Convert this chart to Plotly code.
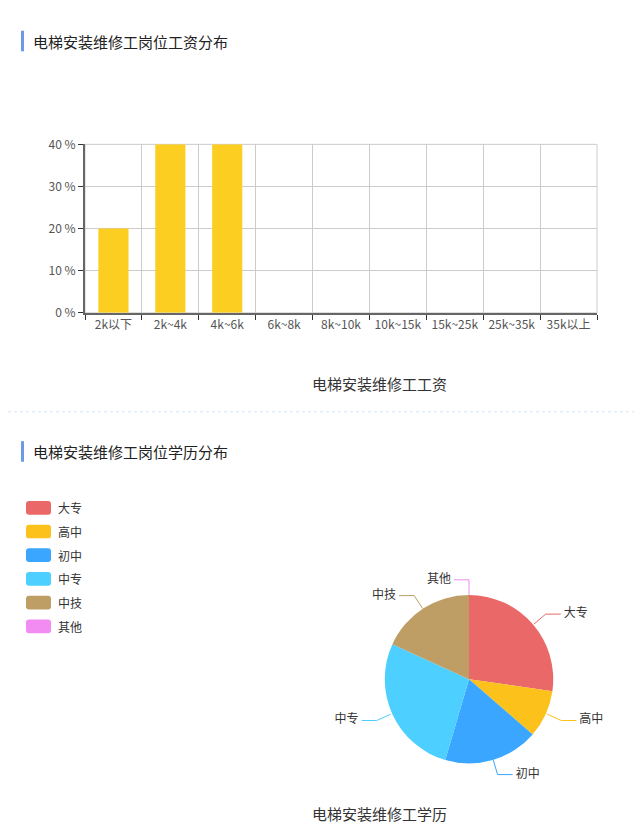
import numpy as np
import plotly.graph_objects as go

W, H = 642, 832
OFF = 8  # page margin around the plot div

# salary distribution
salary_cats = ["2k以下", "2k~4k", "4k~6k", "6k~8k", "8k~10k", "10k~15k", "15k~25k", "25k~35k", "35k以上"]
salary_pct = [20, 40, 40, 0, 0, 0, 0, 0, 0]

# education distribution
edu_labels = ["大专", "高中", "初中", "中专", "中技", "其他"]
edu_counts = [3, 1, 2, 3, 2, 0]
edu_colors = ["#EA6868", "#FDC11C", "#3AA6FF", "#4DCFFF", "#BE9E64", "#F28BF2"]

FONT = "Noto Sans CJK SC"


def px(x):
    return (x - OFF) / W


def py(y):
    return 1 - (y - OFF) / H


fig = go.Figure()

# ---- bar chart ----
fig.add_trace(go.Bar(
    x=salary_cats, y=salary_pct,
    marker=dict(color="#FDCE22", line=dict(width=0)),
    width=0.53, hoverinfo="x+y", showlegend=False,
    xaxis="x", yaxis="y"))

# ---- pie chart ----
cx, cy, r = 469, 683, 86
pie_dom_x = [px(cx - r), px(cx + r)]
pie_dom_y = [py(cy + r), py(cy - r)]

fig.add_trace(go.Pie(
    labels=edu_labels, values=edu_counts,
    marker=dict(colors=edu_colors, line=dict(width=0)),
    sort=False, direction="clockwise", rotation=0,
    textinfo="none", showlegend=False,
    domain=dict(x=pie_dom_x, y=pie_dom_y)))

# overlay axes for leader lines, one unit = pie radius
ax_a, ax_b = 1.9, 1.7
ov_dom_x = [px(cx - ax_a * r), px(cx + ax_a * r)]
ov_dom_y = [py(cy + ax_b * r), py(cy - ax_b * r)]

vals = np.array(edu_counts, dtype=float)
ends = np.cumsum(vals) / vals.sum() * 2 * np.pi
starts = ends - vals / vals.sum() * 2 * np.pi
mids = (starts + ends) / 2
for lab, col, a in zip(edu_labels, edu_colors, mids):
    sx, sy = np.sin(a), np.cos(a)
    side = 1 if sx > 1e-9 else -1
    ex, ey = sx * 1.18, sy * 1.18
    hx = ex + side * 0.175
    fig.add_trace(go.Scatter(
        x=[sx, ex, hx], y=[sy, ey, ey], mode="lines",
        line=dict(color=col, width=1), hoverinfo="skip", showlegend=False,
        cliponaxis=False, xaxis="x2", yaxis="y2"))
    fig.add_trace(go.Scatter(
        x=[hx + side * 0.035], y=[ey], mode="text", text=[lab],
        textposition="middle right" if side > 0 else "middle left",
        textfont=dict(size=12, color="#333", family=FONT), cliponaxis=False,
        hoverinfo="skip", showlegend=False, xaxis="x2", yaxis="y2"))

shapes = []
annotations = []

# section headers
for text, y0 in [("电梯安装维修工岗位工资分布", 32), ("电梯安装维修工岗位学历分布", 451)]:
    shapes.append(dict(type="rect", xref="paper", yref="paper",
                       x0=px(21), x1=px(24), y0=py(y0 + 10), y1=py(y0 - 11),
                       fillcolor="#6C9BE6", line=dict(width=0)))
    annotations.append(dict(text=text, xref="paper", yref="paper", x=px(31), y=py(y0),
                            xanchor="left", yanchor="middle", showarrow=False,
                            font=dict(size=15, color="#222", family=FONT)))

# separator
shapes.append(dict(type="line", xref="paper", yref="paper", x0=0, x1=1, y0=py(410), y1=py(410),
                   line=dict(color="#D6E4F5", width=1, dash="dot")))

# chart titles
annotations.append(dict(text="电梯安装维修工工资", xref="paper", yref="paper", x=px(380), y=py(381),
                        xanchor="center", yanchor="middle", showarrow=False,
                        font=dict(size=15, color="#333", family=FONT)))
annotations.append(dict(text="电梯安装维修工学历", xref="paper", yref="paper", x=px(380), y=py(820),
                        xanchor="center", yanchor="middle", showarrow=False,
                        font=dict(size=15, color="#333", family=FONT)))

# legend with rounded swatches
for i, (lab, col) in enumerate(zip(edu_labels, edu_colors)):
    yc = 508 + i * 24.2
    x0, x1, y0, y1, rr = 26, 51, yc - 7, yc + 7, 3
    path = (f"M {px(x0 + rr)} {py(y0)} L {px(x1 - rr)} {py(y0)} Q {px(x1)} {py(y0)} {px(x1)} {py(y0 + rr)} "
            f"L {px(x1)} {py(y1 - rr)} Q {px(x1)} {py(y1)} {px(x1 - rr)} {py(y1)} "
            f"L {px(x0 + rr)} {py(y1)} Q {px(x0)} {py(y1)} {px(x0)} {py(y1 - rr)} "
            f"L {px(x0)} {py(y0 + rr)} Q {px(x0)} {py(y0)} {px(x0 + rr)} {py(y0)} Z")
    shapes.append(dict(type="path", xref="paper", yref="paper", path=path,
                       fillcolor=col, line=dict(width=0)))
    annotations.append(dict(text=lab, xref="paper", yref="paper", x=px(56), y=py(yc),
                            xanchor="left", yanchor="middle", showarrow=False,
                            font=dict(size=12, color="#333", family=FONT)))

fig.update_layout(
    width=W, height=H,
    margin=dict(l=0, r=0, t=0, b=0),
    paper_bgcolor="white", plot_bgcolor="white",
    font=dict(family=FONT, size=12, color="#555"),
    xaxis=dict(domain=[px(85), px(597)], tickson="boundaries", showgrid=True,
               gridcolor="#CCCCCC", gridwidth=1, showline=True, linecolor="#666", linewidth=2,
               ticks="outside", ticklen=5, tickcolor="#333",
               tickfont=dict(size=12, color="#555"), fixedrange=True),
    yaxis=dict(domain=[py(309), py(137)], range=[0, 40], dtick=10, ticksuffix=" %",
               showgrid=True, gridcolor="#CCCCCC", gridwidth=1, showline=True,
               linecolor="#666", linewidth=2, ticks="outside", ticklen=5, tickcolor="#333",
               zeroline=False, tickfont=dict(size=12, color="#555"), fixedrange=True),
    xaxis2=dict(domain=ov_dom_x, range=[-ax_a, ax_a], visible=False, anchor="y2", fixedrange=True),
    yaxis2=dict(domain=ov_dom_y, range=[-ax_b, ax_b], visible=False, anchor="x2", fixedrange=True),
    shapes=shapes, annotations=annotations,
)

# right/top border of the bar grid
fig.add_shape(type="rect", xref="x domain", yref="y domain", x0=0, x1=1, y0=0, y1=1,
              line=dict(color="#CCCCCC", width=1), layer="below")

fig.write_html("out.html")
